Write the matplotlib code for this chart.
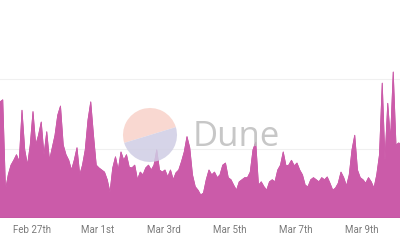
import matplotlib
matplotlib.use("Agg")
import matplotlib.pyplot as plt
import matplotlib.dates as mdates
from matplotlib.patches import Wedge
import numpy as np
import pandas as pd

# 2-hourly values (gridlines sit at 1000 and 2000)
start = "2023-02-26 01:00"
values = [
    1670, 1700, 400, 620, 760, 830, 910, 810, 1550, 980,
    760, 1050, 1530, 1050, 1190, 1380, 910, 1240, 830, 1010,
    1190, 1480, 1610, 1050, 910, 830, 690, 830, 1010, 620,
    760, 980, 1410, 1670, 1190, 760, 720, 690, 660, 550,
    370, 720, 880, 690, 950, 830, 910, 730, 720, 760,
    550, 660, 620, 720, 760, 690, 760, 980, 690, 660,
    690, 590, 690, 550, 650, 690, 810, 950, 1170, 1010,
    620, 450, 400, 330, 360, 550, 690, 620, 660, 580,
    620, 760, 790, 580, 550, 470, 400, 520, 550, 580,
    580, 660, 980, 1090, 470, 520, 450, 400, 520, 550,
    520, 690, 760, 950, 750, 760, 830, 750, 790, 690,
    620, 470, 450, 550, 580, 550, 520, 580, 550, 590,
    500, 400, 430, 500, 660, 580, 460, 620, 980, 1190,
    690, 580, 550, 500, 580, 520, 430, 620, 910, 1940,
    830, 1650, 1120, 2100, 1050, 1080, 1050,
]
times = pd.date_range(start, periods=len(values), freq="2h")

tick_days = pd.to_datetime(["2023-02-27", "2023-03-01", "2023-03-03",
                            "2023-03-05", "2023-03-07", "2023-03-09"])


def ordinal(x, pos=None):
    d = mdates.num2date(x)
    n = d.day
    if 10 <= n % 100 <= 20:
        suf = "th"
    else:
        suf = {1: "st", 2: "nd", 3: "rd"}.get(n % 10, "th")
    return d.strftime("%b ") + f"{n}{suf}"


fig = plt.figure(figsize=(4, 2.4), dpi=100)
ax = fig.add_axes([0, 22 / 240, 1, 218 / 240])

fill_color = "#cb5ba9"
ax.fill_between(times, values, 0, color=fill_color, lw=0.6, zorder=2)
ax.plot(times, values, color=fill_color, lw=0.6, zorder=2)
ax.axhline(0, color="#b04c92", lw=1, zorder=3)

ax.set_xlim(pd.Timestamp("2023-02-26 01:00"), pd.Timestamp("2023-03-10 03:55"))
ax.set_ylim(0, 218 / 69.5 * 1000)
ax.set_yticks([1000, 2000])
ax.yaxis.grid(True, color="#f0f0f0", lw=0.8, zorder=0)
ax.set_axisbelow(True)
ax.tick_params(axis="y", left=False, labelleft=False)

ax.set_xticks(mdates.date2num(tick_days))
ax.xaxis.set_major_formatter(plt.FuncFormatter(ordinal))
ax.tick_params(axis="x", length=0, pad=5, labelsize=7, labelcolor="#7a7a7a")
for lbl in ax.get_xticklabels():
    lbl.set_fontfamily("Roboto")

for s in ax.spines.values():
    s.set_visible(False)

# Dune watermark (figure coordinates in pixels)
trans = fig.dpi_scale_trans
cx, cy, r = 150 / 100, (240 - 135) / 100, 27 / 100
ang = 17
fig.patches.append(Wedge((cx, cy), r, ang, ang + 180, transform=trans,
                         facecolor="#f8d2c9", alpha=0.85, lw=0, zorder=5))
fig.patches.append(Wedge((cx, cy), r, ang + 180, ang + 360, transform=trans,
                         facecolor="#cfcde4", alpha=0.85, lw=0, zorder=5))
fig.text(193 / 400, 1 - 137 / 240, "Dune", fontsize=25, family="Open Sans",
         color="#bdbdbd", alpha=0.85, ha="left", va="center", zorder=6)

fig.savefig("out.png", dpi=100)
